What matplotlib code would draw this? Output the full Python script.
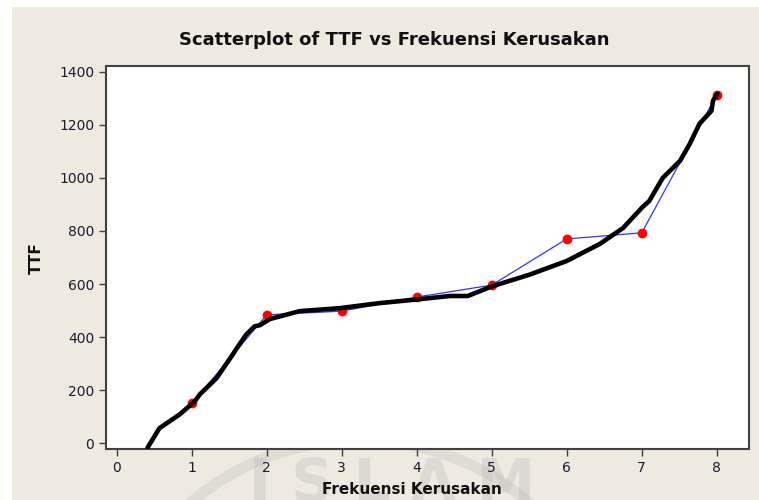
import matplotlib
matplotlib.use("Agg")
import matplotlib.pyplot as plt
from matplotlib.patches import Rectangle, Arc

# Data
freq = [1, 2, 3, 4, 5, 6, 7, 8]
ttf = [150, 484, 498, 551, 596, 770, 793, 1313]

curve_x = [0.41, 0.57, 0.84, 1.04, 1.11, 1.33, 1.55, 1.6, 1.73, 1.84, 1.91, 2.04, 2.44,
           2.97, 3.5, 4.04, 4.44, 4.68, 5.01, 5.5, 6.0, 6.44, 6.75, 7.01, 7.1, 7.28,
           7.51, 7.64, 7.77, 7.93, 7.95, 8.01]
curve_y = [-17, 57, 109, 158, 185, 245, 336, 358, 411, 441, 445, 468, 498,
           509, 528, 543, 555, 555, 592, 635, 687, 751, 811, 890, 913, 1000,
           1064, 1128, 1204, 1253, 1291, 1317]

xticks = [0, 1, 2, 3, 4, 5, 6, 7, 8]
yticks = [0, 200, 400, 600, 800, 1000, 1200, 1400]

W, H = 759, 500
fig = plt.figure(figsize=(W / 100, H / 100), dpi=100)
fig.patch.set_facecolor("white")
fig.patches.append(Rectangle((12 / W, 0), 1 - 12 / W, 1 - 7 / H, transform=fig.transFigure,
                             facecolor="#EEEAE0", edgecolor="none", zorder=-10))

ax = fig.add_axes([106 / W, 1 - 449 / H, (749 - 106) / W, (449 - 66) / H])
ax.set_facecolor("white")
ax.set_xlim(-0.143, 8.43)
ax.set_ylim(-21.5, 1421.6)

ax.plot(freq, ttf, color="#3333ff", lw=0.9, zorder=2)
ax.plot(freq, ttf, "o", color="#ff0000", ms=6, zorder=3)
ax.plot(curve_x, curve_y, color="black", lw=3.3, solid_capstyle="round",
        solid_joinstyle="round", zorder=4)

ax.set_xticks(xticks)
ax.set_yticks(yticks)
ax.tick_params(direction="out", length=5, width=1, color="#404040",
               labelsize=10, labelcolor="#1a1a33")
for s in ax.spines.values():
    s.set_color("#404040")
    s.set_linewidth(1.5)

fig.text(394 / W, 1 - 40 / H, "Scatterplot of TTF vs Frekuensi Kerusakan",
         ha="center", va="center", fontsize=13, fontweight="bold", color="#111111")
fig.text(412 / W, 1 - 489 / H, "Frekuensi Kerusakan", ha="center", va="center",
         fontsize=11, fontweight="bold", color="#111111", zorder=30)
fig.text(36 / W, 1 - 258 / H, "TTF", ha="center", va="center", rotation=90,
         fontsize=11, fontweight="bold", color="#111111")

# faint watermark (from the scanned page)
fig.text(392 / W, 1 - 485 / H, "I S L A M", ha="center", va="center", fontsize=42,
         fontweight="bold", color="#b0b0b0", alpha=0.28, zorder=-5)
fig.patches.append(Arc((360 / W, 1 - 700 / H), 520 / W, 520 / H, theta1=20, theta2=160,
                       transform=fig.transFigure, color="#b0b0b0", alpha=0.25, lw=8, zorder=-5))

fig.savefig("out.png", dpi=100)
